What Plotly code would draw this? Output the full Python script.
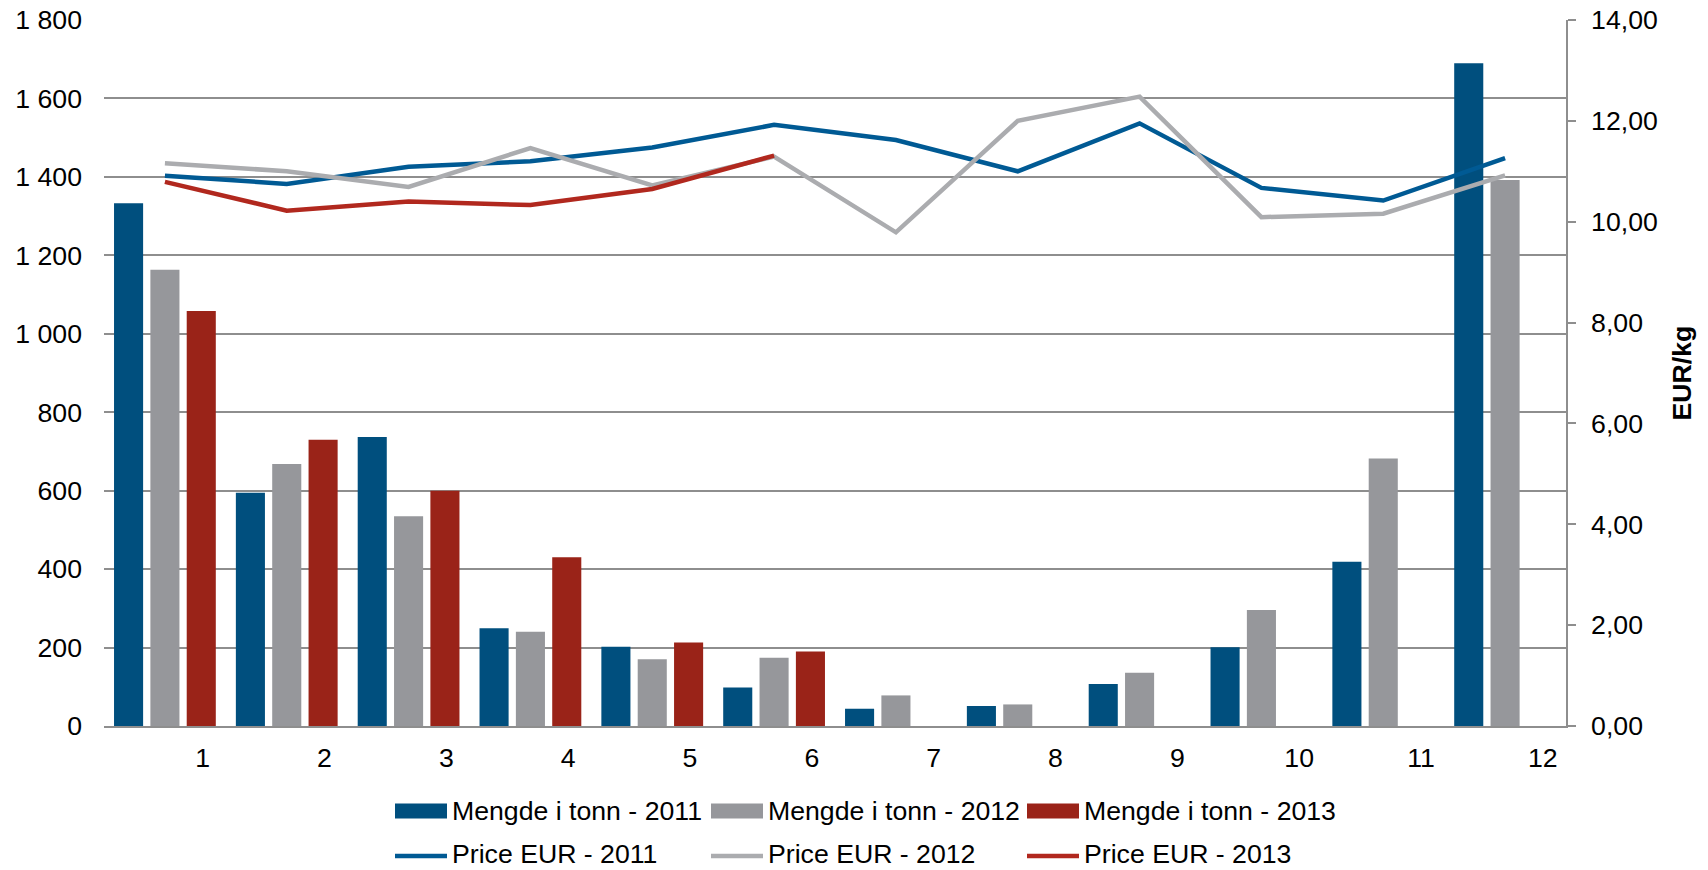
import plotly.graph_objects as go

months = list(range(1, 13))
month_labels = [str(m) for m in months]

qty_2011 = [1333, 595, 737, 249, 202, 98, 44, 51, 107, 201, 419, 1690]
qty_2012 = [1163, 668, 535, 240, 170, 174, 78, 55, 136, 296, 682, 1392]
qty_2013 = [1058, 730, 600, 430, 213, 190]

price_2011 = [10.91, 10.75, 11.09, 11.20, 11.47, 11.92, 11.62, 11.00, 11.95, 10.67, 10.42, 11.26]
price_2012 = [11.16, 11.00, 10.69, 11.46, 10.72, 11.29, 9.79, 12.00, 12.48, 10.09, 10.16, 10.92]
price_2013 = [10.79, 10.22, 10.40, 10.33, 10.65, 11.31]

bar_names = ["Mengde i tonn - 2011", "Mengde i tonn - 2012", "Mengde i tonn - 2013"]
line_names = ["Price EUR - 2011", "Price EUR - 2012", "Price EUR - 2013"]

bar_colors = ["#004F7E", "#96979B", "#9A2318"]
line_colors = ["#005A94", "#ABACAF", "#B1281E"]

FONT = "Arial, 'Liberation Sans', sans-serif"
FS = 26.67

W, H = 1708, 870
L, R, T, B = 104, 142, 20, 144
PW, PH = W - L - R, H - T - B

fig = go.Figure()
for name, vals, col in zip(bar_names, [qty_2011, qty_2012, qty_2013], bar_colors):
    fig.add_trace(go.Bar(x=months[:len(vals)], y=vals, name=name, marker=dict(color=col, line=dict(width=0)),
                         showlegend=False))
for name, vals, col in zip(line_names, [price_2011, price_2012, price_2013], line_colors):
    fig.add_trace(go.Scatter(x=months[:len(vals)], y=vals, name=name, mode="lines", yaxis="y2",
                             line=dict(color=col, width=4.5), showlegend=False))

label_offset = 0.31

grid = "#8E8E8E"
fig.update_layout(
    width=W, height=H,
    margin=dict(l=L, r=R, t=T, b=B, pad=0, autoexpand=False),
    paper_bgcolor="white", plot_bgcolor="white",
    separators=", ",
    font=dict(family=FONT, size=FS, color="#000000"),
    barmode="group", bargap=0.105, bargroupgap=0.2,
    xaxis=dict(range=[0.5, 12.5], tickmode="array",
               tickvals=[m + label_offset for m in months], ticktext=month_labels,
               showgrid=False, showline=True, linecolor=grid, linewidth=1.5,
               ticks="", ticklabelstandoff=7, zeroline=False, automargin=False),
    yaxis=dict(range=[0, 1800], dtick=200, tickformat=",d", showgrid=True, gridcolor=grid,
               gridwidth=1.5, showline=False, ticks="", zeroline=False, ticklabelstandoff=21,
               automargin=False),
    yaxis2=dict(range=[0, 14], dtick=2, tickformat=".2f", overlaying="y", side="right",
                showgrid=False, showline=True, linecolor=grid, linewidth=1.5,
                ticks="outside", ticklen=8, tickcolor=grid, tickwidth=1.5, zeroline=False,
                ticklabelstandoff=10, automargin=False,
                title=dict(text="<b>EUR/kg</b>", font=dict(size=FS), standoff=16)),
    showlegend=False,
)

# Custom legend (two rows) built from the trace names
def px_x(px):
    return (px - L) / PW

def px_y(py):
    return (H - B - py) / PH

col_x = [395, 711, 1027]
row_y = [811, 854]
sym_w = 52
for i, (name, col) in enumerate(zip(bar_names, bar_colors)):
    x0 = col_x[i]
    fig.add_shape(type="rect", xref="paper", yref="paper",
                  x0=px_x(x0), x1=px_x(x0 + sym_w), y0=px_y(row_y[0] + 7.5), y1=px_y(row_y[0] - 7.5),
                  fillcolor=col, line=dict(width=0))
    fig.add_annotation(xref="paper", yref="paper", x=px_x(x0 + sym_w + 4), y=px_y(row_y[0]),
                       text=name, showarrow=False, xanchor="left", yanchor="middle",
                       font=dict(size=FS), borderpad=0)
for i, (name, col) in enumerate(zip(line_names, line_colors)):
    x0 = col_x[i]
    fig.add_shape(type="line", xref="paper", yref="paper",
                  x0=px_x(x0), x1=px_x(x0 + sym_w), y0=px_y(row_y[1] + 2), y1=px_y(row_y[1] + 2),
                  line=dict(color=col, width=4.5))
    fig.add_annotation(xref="paper", yref="paper", x=px_x(x0 + sym_w + 4), y=px_y(row_y[1]),
                       text=name, showarrow=False, xanchor="left", yanchor="middle",
                       font=dict(size=FS), borderpad=0)

fig.write_html("out.html", config={"displayModeBar": False},
               post_script="document.body.style.margin='0';document.body.style.overflow='hidden';")
